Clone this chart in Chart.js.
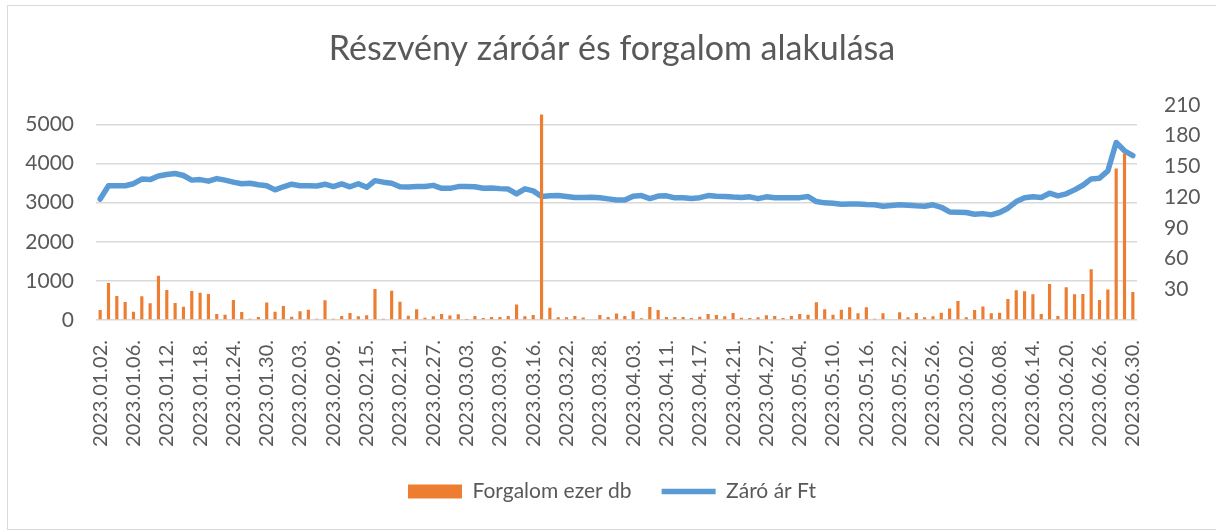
<!DOCTYPE html>
<html>
<head>
<meta charset="utf-8">
<script src="https://cdn.jsdelivr.net/npm/chart.js@4.4.1/dist/chart.umd.min.js"></script>
<style>
  html, body { margin: 0; padding: 0; background: #ffffff; overflow: hidden; }
  #wrap { position: relative; width: 1216px; height: 530px; }
  #frame { position: absolute; left: 7px; top: 5px; width: 1215px; height: 523px; border: 1px solid #D9D9D9; box-sizing: content-box; pointer-events: none; }
  canvas { position: absolute; left: 0; top: 0; }
</style>
</head>
<body>
<div id="wrap">
  <canvas id="c" width="1216" height="530"></canvas>
  <div id="frame"></div>
</div>
<script>
const chartTitle = "Részvény záróár és forgalom alakulása";
const volumeLabel = "Forgalom ezer db";
const priceLabel = "Záró ár Ft";

const dates = [
  "2023.01.02.","2023.01.03.","2023.01.04.","2023.01.05.","2023.01.06.","2023.01.09.","2023.01.10.","2023.01.11.","2023.01.12.","2023.01.13.",
  "2023.01.16.","2023.01.17.","2023.01.18.","2023.01.19.","2023.01.20.","2023.01.23.","2023.01.24.","2023.01.25.","2023.01.26.","2023.01.27.",
  "2023.01.30.","2023.01.31.","2023.02.01.","2023.02.02.","2023.02.03.","2023.02.06.","2023.02.07.","2023.02.08.","2023.02.09.","2023.02.10.",
  "2023.02.13.","2023.02.14.","2023.02.15.","2023.02.16.","2023.02.17.","2023.02.20.","2023.02.21.","2023.02.22.","2023.02.23.","2023.02.24.",
  "2023.02.27.","2023.02.28.","2023.03.01.","2023.03.02.","2023.03.03.","2023.03.06.","2023.03.07.","2023.03.08.","2023.03.09.","2023.03.10.",
  "2023.03.13.","2023.03.14.","2023.03.16.","2023.03.17.","2023.03.20.","2023.03.21.","2023.03.22.","2023.03.23.","2023.03.24.","2023.03.27.",
  "2023.03.28.","2023.03.29.","2023.03.30.","2023.03.31.","2023.04.03.","2023.04.04.","2023.04.05.","2023.04.06.","2023.04.11.","2023.04.12.",
  "2023.04.13.","2023.04.14.","2023.04.17.","2023.04.18.","2023.04.19.","2023.04.20.","2023.04.21.","2023.04.24.","2023.04.25.","2023.04.26.",
  "2023.04.27.","2023.04.28.","2023.05.02.","2023.05.03.","2023.05.04.","2023.05.05.","2023.05.08.","2023.05.09.","2023.05.10.","2023.05.11.",
  "2023.05.12.","2023.05.15.","2023.05.16.","2023.05.17.","2023.05.18.","2023.05.19.","2023.05.22.","2023.05.23.","2023.05.24.","2023.05.25.",
  "2023.05.26.","2023.05.30.","2023.05.31.","2023.06.01.","2023.06.02.","2023.06.05.","2023.06.06.","2023.06.07.","2023.06.08.","2023.06.09.",
  "2023.06.12.","2023.06.13.","2023.06.14.","2023.06.15.","2023.06.16.","2023.06.19.","2023.06.20.","2023.06.21.","2023.06.22.","2023.06.23.",
  "2023.06.26.","2023.06.27.","2023.06.28.","2023.06.29.","2023.06.30."
];

// Forgalom (ezer db) – left axis
const volume = [
  255, 944, 612, 459, 213, 604, 425, 1131, 765, 434,
  340, 740, 697, 663, 153, 136, 510, 204, 34, 77,
  450, 213, 358, 80, 222, 264, 34, 502, 30, 102,
  179, 94, 120, 792, 34, 745, 468, 106, 273, 55,
  94, 153, 115, 145, 8, 102, 51, 77, 77, 102,
  395, 94, 128, 5250, 310, 68, 68, 102, 65, 17,
  128, 77, 165, 100, 225, 43, 332, 255, 77, 77,
  77, 51, 82, 153, 128, 94, 179, 57, 51, 68,
  120, 102, 51, 102, 153, 137, 453, 274, 137, 265,
  325, 171, 325, 34, 171, 17, 197, 68, 180, 68,
  94, 188, 291, 487, 68, 257, 342, 171, 188, 539,
  761, 735, 658, 154, 923, 103, 838, 658, 667, 1300,
  513, 778, 3873, 4258, 718
];

// Záró ár (Ft) – right axis
const price = [
  118, 131, 131, 131, 133, 137.5, 137, 140.5, 142, 143,
  141, 136.5, 137, 135.5, 138, 136.5, 134.5, 133, 133.5, 132,
  131, 127, 130, 132.5, 131, 131, 130.8, 132.5, 130.2, 132.8,
  130, 133, 129.5, 136, 134.5, 133.5, 130, 129.8, 130.2, 130.2,
  131.4, 128.5, 128.5, 130.2, 130.2, 130, 128.5, 128.8, 128.2, 127.8,
  123, 128, 126, 120.5, 121.2, 121.5, 120.5, 119.5, 119.6, 119.8,
  119.2, 118.2, 117.2, 117, 120.8, 121.4, 118.5, 121, 121.2, 119.2,
  119.2, 118.5, 119.4, 121.4, 120.8, 120.6, 120, 119.6, 120.2, 118.4,
  120.2, 119.2, 119.4, 119.2, 119.4, 120.5, 115.6, 114.3, 114, 113,
  113.3, 113.3, 112.7, 112.4, 111, 111.7, 112.4, 112, 111.4, 111,
  112.4, 110, 105.5, 105.2, 104.9, 103.2, 103.8, 102.6, 104.9, 109.1,
  115.6, 119.2, 120.2, 119.5, 123.7, 121.1, 123.1, 127, 131.5, 137.7,
  138.4, 145.5, 173.2, 165.1, 160.5
];

const leftTicks = [0, 1000, 2000, 3000, 4000, 5000];
const rightTicks = [30, 60, 90, 120, 150, 180, 210];

const textColor = '#595959';
const font = 'Lato';

new Chart(document.getElementById('c'), {
  data: {
    labels: dates,
    datasets: [
      {
        type: 'bar',
        label: volumeLabel,
        data: volume,
        yAxisID: 'y',
        backgroundColor: '#ED7D31',
        borderWidth: 0,
        barPercentage: 0.38,
        categoryPercentage: 1.0,
        pointStyle: 'rect'
      },
      {
        type: 'line',
        label: priceLabel,
        data: price,
        yAxisID: 'y1',
        borderColor: '#5B9BD5',
        backgroundColor: '#5B9BD5',
        borderWidth: 5.5,
        pointRadius: 0,
        tension: 0,
        borderCapStyle: 'round',
        borderJoinStyle: 'round',
        pointStyle: 'line'
      }
    ]
  },
  options: {
    responsive: false,
    animation: false,
    devicePixelRatio: 1,
    layout: { padding: { left: 8, right: 0, top: 0, bottom: 18 } },
    plugins: {
      title: {
        display: true,
        text: chartTitle,
        color: textColor,
        font: { family: font, size: 34, weight: 'normal', lineHeight: 1.2 },
        padding: { top: 29, bottom: 35 }
      },
      legend: {
        position: 'bottom',
        labels: {
          color: textColor,
          font: { family: font, size: 21 },
          usePointStyle: true,
          pointStyleWidth: 54,
          boxHeight: 14,
          padding: 30
        }
      },
      tooltip: { enabled: false }
    },
    scales: {
      x: {
        offset: true,
        grid: { display: false },
        border: { display: false },
        ticks: {
          autoSkip: false,
          minRotation: 90,
          maxRotation: 90,
          padding: 12,
          color: textColor,
          font: { family: font, size: 20 },
          callback: function(v, i) { return i % 4 === 0 ? this.getLabelForValue(v) : ''; }
        },
        afterFit: s => { s.height = 131; }
      },
      y: {
        position: 'left',
        min: 0,
        max: 5500,
        border: { display: false },
        grid: { color: '#D9D9D9', lineWidth: 1.5, drawTicks: false },
        afterBuildTicks: s => { s.ticks = leftTicks.map(v => ({ value: v })); },
        ticks: {
          padding: 22,
          color: textColor,
          font: { family: font, size: 21 },
          callback: v => String(v)
        },
        afterFit: s => { s.width = 88; }
      },
      y1: {
        position: 'right',
        min: 0,
        max: 210,
        border: { display: false },
        grid: { display: false, drawTicks: false },
        afterBuildTicks: s => { s.ticks = rightTicks.map(v => ({ value: v })); },
        ticks: {
          padding: 27,
          color: textColor,
          font: { family: font, size: 21 },
          callback: v => String(v)
        },
        afterFit: s => { s.width = 79; }
      }
    }
  }
});
</script>
</body>
</html>
